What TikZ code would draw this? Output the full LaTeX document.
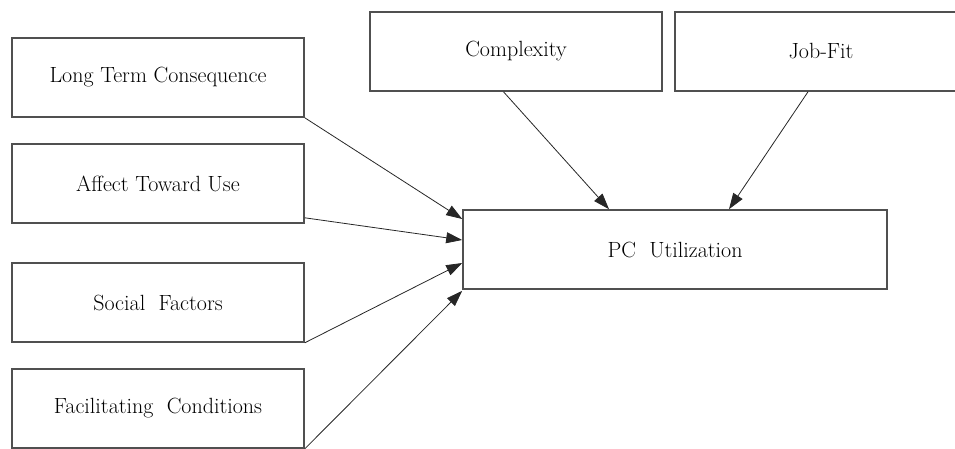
\documentclass[tikz,border=0pt]{standalone}
\usetikzlibrary{arrows.meta}
\definecolor{boxgray}{HTML}{505050}
\begin{document}
\begin{tikzpicture}[x=1pt,y=-1pt,
   factor/.style={draw=boxgray,line width=1.6pt,fill=white,minimum width=292pt,
      minimum height=79pt,inner sep=0pt,font=\fontsize{22}{26}\selectfont},
   link/.style={draw=black!85,line width=0.8pt,-{Triangle[length=16pt,width=11pt]}}]
\useasboundingbox (0,0) rectangle (955,449);
\clip (0,0) rectangle (955,449);
% the four factors on the left
\node [factor] (ltc) at (158,77.5) {Long Term Consequence};
\node [factor] (atu) at (158,183.5) {Affect Toward Use};
\node [factor] (sf) at (158,302.5) {Social\ \ Factors};
\node [factor] (fc) at (158,408.5) {Facilitating\ \ Conditions};
% the two factors on top
\node [factor] (cx) at (516,51.5) {Complexity};
\node [factor] (jf) at (821,51.5) {Job-Fit};
\node [factor,minimum width=424pt] (pc) at (675,249.5) {PC\ \ Utilization};
\draw [link] (ltc.south east) -- ([yshift=30.5pt]pc.west);
\draw [link] ([yshift=6pt]atu.south east) -- ([yshift=9.5pt]pc.west);
\draw [link] (sf.south east) -- ([yshift=-13.5pt]pc.west);
\draw [link] (fc.south east) -- ([yshift=-1pt]pc.south west);
\draw [link] ([xshift=-12.5pt]cx.south) -- ([xshift=-66pt]pc.north);
\draw [link] ([xshift=-13pt]jf.south) -- ([xshift=54pt]pc.north);
\end{tikzpicture}
\end{document}
